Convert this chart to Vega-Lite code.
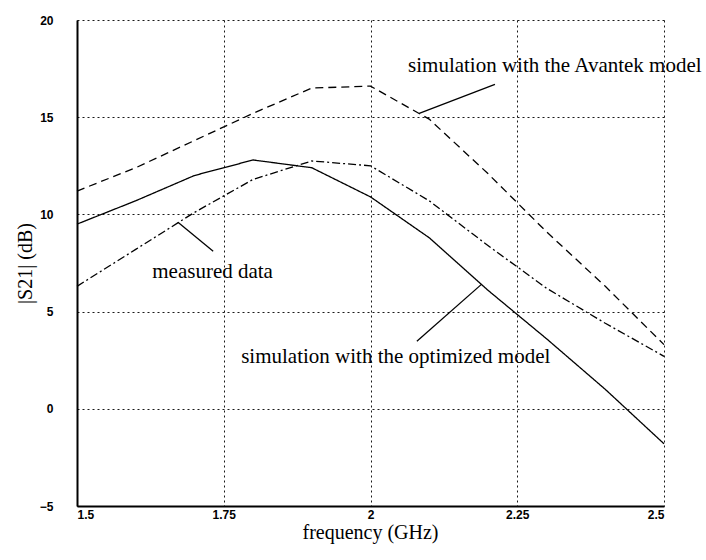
{
  "$schema": "https://vega.github.io/schema/vega-lite/v6.json",
  "autosize": {"type": "none"},
  "padding": {"left": 77, "top": 20, "right": 42, "bottom": 54},
  "width": 587,
  "height": 486,
  "background": "white",
  "config": {"view": {"stroke": null}},
  "datasets": {
    "curves": [
      {"series": "optimized", "f": 1.5, "v": 9.5},
      {"series": "optimized", "f": 1.6, "v": 10.7},
      {"series": "optimized", "f": 1.7, "v": 12.0},
      {"series": "optimized", "f": 1.8, "v": 12.8},
      {"series": "optimized", "f": 1.9, "v": 12.4},
      {"series": "optimized", "f": 2.0, "v": 10.9},
      {"series": "optimized", "f": 2.1, "v": 8.8},
      {"series": "optimized", "f": 2.2, "v": 6.1},
      {"series": "optimized", "f": 2.3, "v": 3.6},
      {"series": "optimized", "f": 2.4, "v": 1.0},
      {"series": "optimized", "f": 2.5, "v": -1.8},
      {"series": "avantek", "f": 1.5, "v": 11.2},
      {"series": "avantek", "f": 1.6, "v": 12.4},
      {"series": "avantek", "f": 1.7, "v": 13.8},
      {"series": "avantek", "f": 1.8, "v": 15.2},
      {"series": "avantek", "f": 1.9, "v": 16.5},
      {"series": "avantek", "f": 2.0, "v": 16.6},
      {"series": "avantek", "f": 2.1, "v": 14.9},
      {"series": "avantek", "f": 2.2, "v": 12.1},
      {"series": "avantek", "f": 2.3, "v": 9.1},
      {"series": "avantek", "f": 2.4, "v": 6.3},
      {"series": "avantek", "f": 2.5, "v": 3.3},
      {"series": "measured", "f": 1.5, "v": 6.3},
      {"series": "measured", "f": 1.6, "v": 8.2},
      {"series": "measured", "f": 1.7, "v": 10.1},
      {"series": "measured", "f": 1.8, "v": 11.8},
      {"series": "measured", "f": 1.9, "v": 12.75},
      {"series": "measured", "f": 2.0, "v": 12.5},
      {"series": "measured", "f": 2.1, "v": 10.7},
      {"series": "measured", "f": 2.2, "v": 8.4},
      {"series": "measured", "f": 2.3, "v": 6.2},
      {"series": "measured", "f": 2.4, "v": 4.4},
      {"series": "measured", "f": 2.5, "v": 2.7}
    ],
    "pointers": [
      {"f": 2.212, "v": 16.69, "f2": 2.083, "v2": 15.2},
      {"f": 1.732, "v": 8.1, "f2": 1.672, "v2": 9.59},
      {"f": 2.079, "v": 3.47, "f2": 2.189, "v2": 6.4}
    ],
    "labels": [
      {"f": 2.314, "v": 17.62, "text": "simulation with the Avantek model"},
      {"f": 1.731, "v": 7.02, "text": "measured data"},
      {"f": 2.043, "v": 2.65, "text": "simulation with the optimized model"}
    ]
  },
  "encoding": {
    "x": {
      "field": "f", "type": "quantitative",
      "scale": {"domain": [1.5, 2.5], "nice": false, "zero": false},
      "axis": {
        "values": [1.5, 1.75, 2, 2.25, 2.5], "labelExpr": "'' + datum.value",
        "labelFont": "Liberation Sans", "labelFontWeight": "bold", "labelFontSize": 12, "labelColor": "black",
        "labelPadding": 3, "labelDx": -3, "ticks": false,
        "domainColor": "black", "domainWidth": 2,
        "grid": true, "gridColor": "black", "gridDash": [2, 3], "gridWidth": 1, "gridOpacity": 0.9,
        "title": "frequency (GHz)", "titleFont": "Liberation Serif", "titleFontSize": 20, "titleFontWeight": "normal",
        "titleColor": "black", "titleX": 293, "titleY": 26, "titleBaseline": "middle"
      }
    },
    "y": {
      "field": "v", "type": "quantitative",
      "scale": {"domain": [-5, 20], "nice": false, "zero": false},
      "axis": {
        "values": [-5, 0, 5, 10, 15, 20], "format": "d",
        "labelFont": "Liberation Sans", "labelFontWeight": "bold", "labelFontSize": 12, "labelColor": "black",
        "labelPadding": 24, "ticks": false,
        "domainColor": "black", "domainWidth": 2,
        "grid": true, "gridColor": "black", "gridDash": [2, 3], "gridWidth": 1, "gridOpacity": 0.9,
        "title": "|S21| (dB)", "titleFont": "Liberation Serif", "titleFontSize": 20, "titleFontWeight": "normal",
        "titleColor": "black", "titleX": -52, "titleY": 243, "titleBaseline": "middle", "titleAngle": 270
      }
    }
  },
  "layer": [
    {
      "data": {"name": "curves"},
      "mark": {"type": "line", "color": "black", "strokeWidth": 1.3},
      "encoding": {
        "detail": {"field": "series"},
        "strokeDash": {
          "field": "series", "type": "nominal",
          "scale": {"domain": ["optimized", "avantek", "measured"], "range": [[1, 0], [8, 5], [8, 3, 2, 3]]},
          "legend": null
        }
      }
    },
    {
      "data": {"name": "pointers"},
      "mark": {"type": "rule", "color": "black", "strokeWidth": 1.3},
      "encoding": {
        "x2": {"field": "f2"},
        "y2": {"field": "v2"}
      }
    },
    {
      "data": {"name": "labels"},
      "mark": {"type": "text", "font": "Liberation Serif", "fontSize": 21, "color": "black", "align": "center", "baseline": "middle"},
      "encoding": {
        "text": {"field": "text"}
      }
    }
  ]
}
